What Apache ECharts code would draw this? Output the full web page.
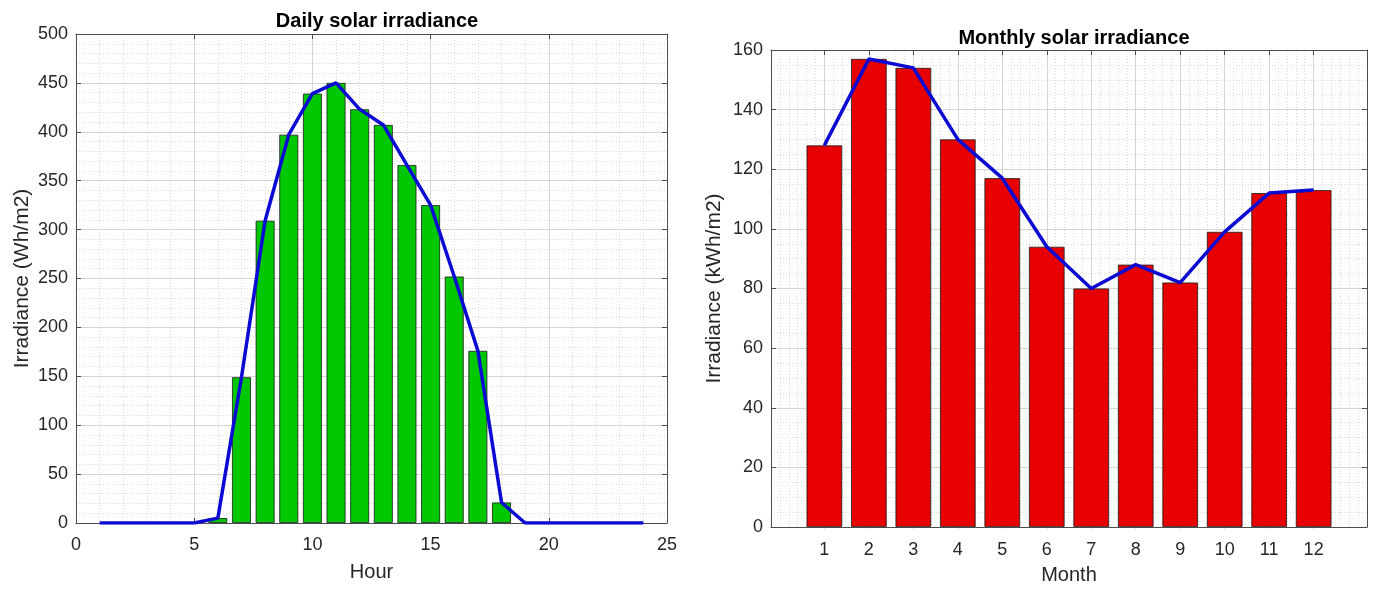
<!DOCTYPE html>
<html>
<head>
<meta charset="utf-8">
<title>Solar irradiance</title>
<script src="https://cdn.jsdelivr.net/npm/echarts@6.0.0/dist/echarts.min.js"></script>
<style>
  html, body { margin: 0; padding: 0; background: #fff; }
  #chart { width: 1378px; height: 590px; }
</style>
</head>
<body>
<div id="chart"></div>
<script>
// daily profile (Wh/m2 per hour)
const hours = [1, 2, 3, 4, 5, 6, 7, 8, 9, 10, 11, 12, 13, 14, 15, 16, 17, 18, 19, 20, 21, 22, 23, 24];
const dailyIrradiance = [0, 0, 0, 0, 0, 5, 149, 309, 397, 439, 450, 423, 407, 366, 325, 252, 176, 21, 0, 0, 0, 0, 0, 0];

// monthly totals (kWh/m2)
const months = [1, 2, 3, 4, 5, 6, 7, 8, 9, 10, 11, 12];
const monthlyIrradiance = [128, 157, 154, 130, 117, 94, 80, 88, 82, 99, 112, 113];

const FONT = "'Liberation Sans', Arial, sans-serif";
const TEXT = "#262626";
const FRAME = "#4d4d4d";
const MAJOR = "#d6d6d6";
const MINOR = "#d9d9d9";
const BLUE = "#0a0ad2";

const leftGrid = { left: 76, top: 34, width: 591, height: 489 };
const rightGrid = { left: 771, top: 50, width: 596, height: 479 };
// right x range is -0.2 .. 13.2 (matlab padding around the bars)
const monthUnit = rightGrid.width / 13.4;
// overlay grid spanning 0..13 only, used for the month grid lines
const monthGrid = {
  left: rightGrid.left + 0.2 * monthUnit, top: rightGrid.top,
  width: 13 * monthUnit, height: rightGrid.height,
};

// matlab default bar width = 0.8 of the spacing
const leftBarW = leftGrid.width / 25 * 0.8;
const rightBarW = monthUnit * 0.8;

const frameLine = { show: true, onZero: false, lineStyle: { color: FRAME, width: 1 } };
const inTick = { show: true, inside: true, length: 5, lineStyle: { color: FRAME } };
const majorGrid = { show: true, lineStyle: { color: MAJOR, width: 1 } };
const minorGrid = { show: true, lineStyle: { color: MINOR, width: 1, type: [1, 2] } };
const noAxis = { axisLine: { show: false }, axisTick: { show: false }, axisLabel: { show: false } };
const tickFont = { fontFamily: FONT, fontSize: 18, color: TEXT };

// zero-height bars get no outline (the line covers them in the original)
const barPoints = (xs, ys) => xs.map((x, i) => ys[i] === 0
  ? { value: [x, ys[i]], itemStyle: { borderWidth: 0 } }
  : [x, ys[i]]);

const chart = echarts.init(document.getElementById("chart"));

const option = {
  animation: false,
  backgroundColor: "#fff",
  title: [
    {
      text: "Daily solar irradiance",
      left: 372, top: 6, textAlign: "center",
      textStyle: { fontFamily: FONT, fontSize: 20, fontWeight: "bold", color: "#000" },
    },
    {
      text: "Monthly solar irradiance",
      left: 1069, top: 23, textAlign: "center",
      textStyle: { fontFamily: FONT, fontSize: 20, fontWeight: "bold", color: "#000" },
    },
  ],
  grid: [
    Object.assign({ show: false }, leftGrid),
    Object.assign({ show: false }, rightGrid),
    Object.assign({ show: false }, monthGrid),
  ],
  xAxis: [
    {
      // 0: left, data axis
      gridIndex: 0, type: "value", position: "bottom",
      min: 0, max: 25, interval: 5,
      name: "Hour", nameLocation: "middle", nameGap: 39,
      nameTextStyle: { fontFamily: FONT, fontSize: 20, color: TEXT },
      axisLine: frameLine, axisTick: inTick,
      axisLabel: Object.assign({ margin: 13 }, tickFont),
      splitLine: majorGrid,
      minorTick: { show: false, splitNumber: 5 },
      minorSplitLine: minorGrid,
    },
    {
      // 1: left, top frame
      gridIndex: 0, type: "value", position: "top",
      min: 0, max: 25, interval: 5,
      axisLine: frameLine, axisTick: inTick,
      axisLabel: { show: false }, splitLine: { show: false },
    },
    {
      // 2: right, data axis
      gridIndex: 1, type: "value", position: "bottom",
      min: -0.2, max: 13.2,
      name: "Month", nameLocation: "middle", nameGap: 38,
      nameTextStyle: { fontFamily: FONT, fontSize: 20, color: TEXT },
      axisLine: frameLine,
      axisTick: Object.assign({ customValues: months }, inTick),
      axisLabel: Object.assign({ customValues: months, margin: 14 }, tickFont),
      splitLine: { show: false },
    },
    {
      // 3: right, top frame
      gridIndex: 1, type: "value", position: "top",
      min: -0.2, max: 13.2,
      axisLine: frameLine,
      axisTick: Object.assign({ customValues: months }, inTick),
      axisLabel: { show: false }, splitLine: { show: false },
    },
    Object.assign({
      // 4: right, minor vertical grid every 0.2
      gridIndex: 1, type: "value",
      min: -0.2, max: 13.2, interval: 0.2,
      splitLine: minorGrid,
    }, noAxis),
    Object.assign({
      // 5: right, major vertical grid at the months
      gridIndex: 2, type: "value",
      min: 0, max: 13, interval: 1,
      splitLine: Object.assign({ showMinLine: false, showMaxLine: false }, majorGrid),
    }, noAxis),
  ],
  yAxis: [
    {
      gridIndex: 0, type: "value", position: "left",
      min: 0, max: 500, interval: 50,
      name: "Irradiance (Wh/m2)", nameLocation: "middle", nameGap: 43,
      nameTextStyle: { fontFamily: FONT, fontSize: 21, color: TEXT },
      axisLine: frameLine, axisTick: inTick,
      axisLabel: Object.assign({ margin: 8 }, tickFont),
      splitLine: majorGrid,
      minorTick: { show: false, splitNumber: 5 },
      minorSplitLine: minorGrid,
    },
    {
      gridIndex: 0, type: "value", position: "right",
      min: 0, max: 500, interval: 50,
      axisLine: frameLine, axisTick: inTick,
      axisLabel: { show: false }, splitLine: { show: false },
    },
    {
      gridIndex: 1, type: "value", position: "left",
      min: 0, max: 160, interval: 20,
      name: "Irradiance (kWh/m2)", nameLocation: "middle", nameGap: 46,
      nameTextStyle: { fontFamily: FONT, fontSize: 21, color: TEXT },
      axisLine: frameLine, axisTick: inTick,
      axisLabel: Object.assign({ margin: 8 }, tickFont),
      splitLine: majorGrid,
      minorTick: { show: false, splitNumber: 4 },
      minorSplitLine: minorGrid,
    },
    {
      gridIndex: 1, type: "value", position: "right",
      min: 0, max: 160, interval: 20,
      axisLine: frameLine, axisTick: inTick,
      axisLabel: { show: false }, splitLine: { show: false },
    },
    Object.assign({
      gridIndex: 2, type: "value", min: 0, max: 160,
      splitLine: { show: false },
    }, noAxis),
  ],
  series: [
    {
      type: "bar", xAxisIndex: 0, yAxisIndex: 0,
      data: barPoints(hours, dailyIrradiance),
      barWidth: leftBarW,
      itemStyle: { color: "#00c800", borderColor: "#1a1a1a", borderWidth: 0.8 },
    },
    {
      type: "line", xAxisIndex: 0, yAxisIndex: 0,
      data: hours.map((h, i) => [h, dailyIrradiance[i]]),
      symbol: "none", z: 3,
      lineStyle: { color: BLUE, width: 3.5 },
    },
    {
      type: "bar", xAxisIndex: 2, yAxisIndex: 2,
      data: barPoints(months, monthlyIrradiance),
      barWidth: rightBarW,
      itemStyle: { color: "#e60000", borderColor: "#1a1a1a", borderWidth: 0.8 },
    },
    {
      type: "line", xAxisIndex: 2, yAxisIndex: 2,
      data: months.map((m, i) => [m, monthlyIrradiance[i]]),
      symbol: "none", z: 3,
      lineStyle: { color: BLUE, width: 3.5 },
    },
  ],
};

chart.setOption(option);
</script>
</body>
</html>
